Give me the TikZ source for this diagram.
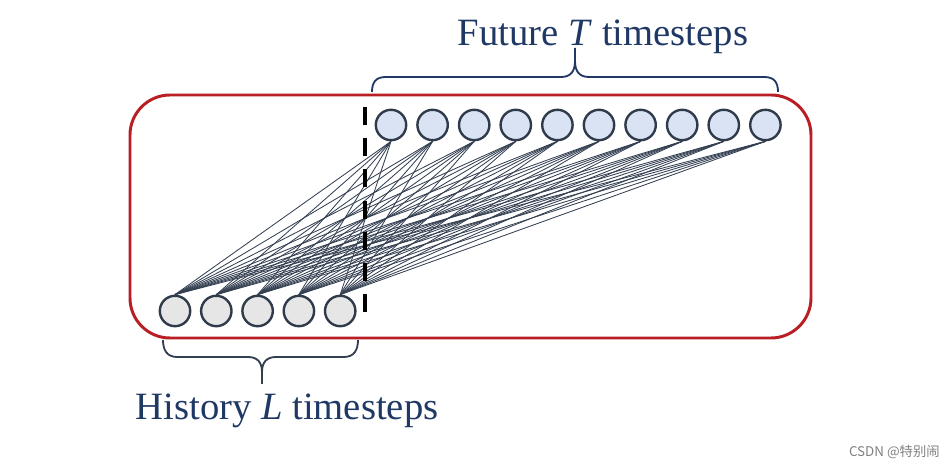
\documentclass[tikz,border=0pt]{standalone}
\usepackage{fontspec}
\setmainfont{Liberation Serif}
\newfontfamily\cjkfont{Noto Sans CJK SC}
\definecolor{frred}{RGB}{185,30,36}
\definecolor{futblue}{RGB}{218,227,243}
\definecolor{histgray}{RGB}{230,230,230}
\definecolor{nodeline}{RGB}{47,58,74}
\definecolor{linkgray}{RGB}{52,64,82}
\definecolor{labnavy}{RGB}{31,56,100}
\definecolor{bracegray}{RGB}{51,63,80}
\usetikzlibrary{positioning,calc}
\tikzset{
  futnode/.style={circle,draw=nodeline,fill=futblue,line width=1.7pt,minimum size=0.76cm,inner sep=0pt},
  histnode/.style={circle,draw=nodeline,fill=histgray,line width=1.7pt,minimum size=0.76cm,inner sep=0pt},
  link/.style={draw=linkgray,line width=0.6pt},
  frame/.style={draw=frred,line width=2.1pt,rounded corners=1cm},
  bracepath/.style={line width=1.3pt,line join=round},
  steplabel/.style={font=\fontsize{27.5}{33}\selectfont,text=labnavy,inner sep=0pt}
}

\begin{document}
\begin{tikzpicture}[x=0.025cm,y=0.025cm]
  \useasboundingbox (0,0) rectangle (949,471);
  % Outer frame
  \draw[frame] (130,133) rectangle (811,376);
  % Future nodes
  \foreach \j in {1,...,10}
    \node[futnode] (f\j) at ({391+41.6*(\j-1)},346) {};
  % History nodes
  \foreach \i in {1,...,5}
    \node[histnode] (h\i) at ({175+41.3*(\i-1)},160) {};
  % All-to-all links
  \foreach \i in {1,...,5}
    \foreach \j in {1,...,10}
      \draw[link] (h\i.north) -- (f\j.south);
  % Split between history and future
  \draw[black,line width=2.6pt,dash pattern=on 0.45cm off 0.33cm] (365,364) -- (365,150);
  % Top brace
  \draw[bracepath,draw=labnavy] (372,379) .. controls (372,389) and (376,394) .. (386,394)
    -- (561,394) .. controls (571,394) and (575,400) .. (575,410) -- (575,423);
  \draw[bracepath,draw=labnavy] (778,379) .. controls (778,389) and (774,394) .. (764,394)
    -- (589,394) .. controls (579,394) and (575,400) .. (575,410);
  \node[steplabel,anchor=base] (futlab) at (603,425) {Future \textit{T} timesteps};
  % Bottom brace
  \draw[bracepath,draw=bracegray] (163,131) .. controls (163,121) and (167,114) .. (177,114)
    -- (248,114) .. controls (258,114) and (262,108) .. (262,99) -- (262,87);
  \draw[bracepath,draw=bracegray] (358,131) .. controls (358,121) and (354,114) .. (344,114)
    -- (276,114) .. controls (266,114) and (262,108) .. (262,99);
  \node[steplabel,anchor=base] (histlab) at (287,51) {History \textit{L} timesteps};
  % Watermark
  \node[anchor=east,inner sep=0pt,text=gray,font=\cjkfont\fontsize{9.5}{11}\selectfont] (wm) at (940,19) {CSDN @特别闹};
\end{tikzpicture}
\end{document}
